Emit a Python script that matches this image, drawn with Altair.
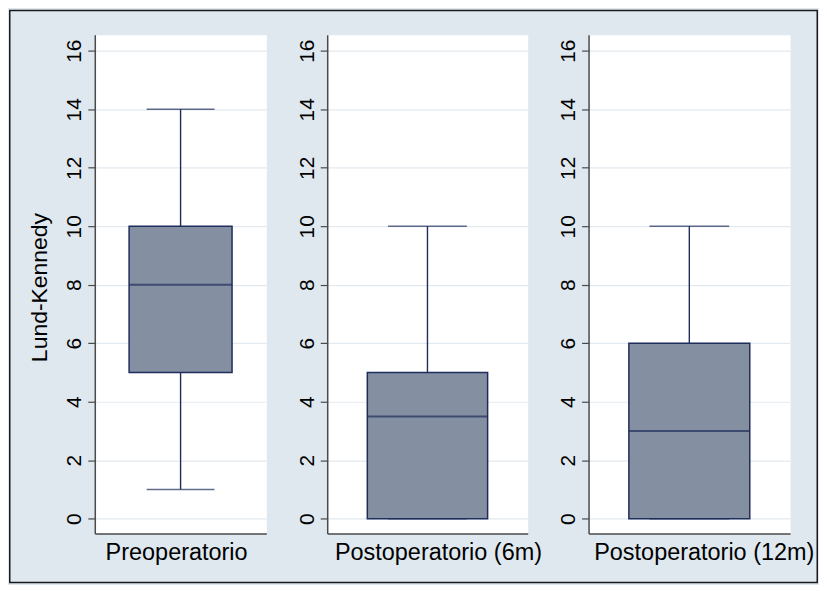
import altair as alt
import pandas as pd

# ---- data ----
groups = ["Preoperatorio", "Postoperatorio (6m)", "Postoperatorio (12m)"]
mins = [1, 0, 0]
q1s = [5, 0, 0]
medians = [8, 3.5, 3]
q3s = [10, 5, 6]
maxs = [14, 10, 10]
y_ticks = [0, 2, 4, 6, 8, 10, 12, 14, 16]

# ---- layout / style ----
panel_widths = [172, 201, 202]
label_offsets = [-4, 11, 15]
PLOT_H = 500
BG = "#DFE8EE"
BOX_FILL = "#858FA2"
LINE = "#1F2D5C"
AXIS_C = "#4A4A4A"
GRID_C = "#E3EAEF"
FONT = "Liberation Sans"


def panel(i):
    df = pd.DataFrame({
        "group": [groups[i]],
        "lo": [mins[i]],
        "q1": [q1s[i]],
        "med": [medians[i]],
        "q3": [q3s[i]],
        "hi": [maxs[i]],
    })
    w = panel_widths[i]
    x = alt.X(
        "group:N",
        title=None,
        scale=alt.Scale(paddingInner=0, paddingOuter=0),
        axis=alt.Axis(
            labelAngle=0, ticks=False, tickSize=0, grid=False,
            domainColor=AXIS_C, domainWidth=1.5,
            labelFont=FONT, labelFontSize=23.5, labelColor="black",
            labelBaseline="alphabetic", labelPadding=26, labelLimit=0,
            labelOffset=label_offsets[i],
        ),
    )
    y_scale = alt.Scale(domain=[-0.5, 16.55], nice=False, zero=False)
    y_axis = alt.Axis(
        values=y_ticks, labelAngle=-90, labelAlign="center",
        labelBaseline="alphabetic", labelFont=FONT, labelFontSize=21,
        labelColor="black", labelPadding=7, tickSize=7, tickColor=AXIS_C,
        tickWidth=1.2, domainColor=AXIS_C, domainWidth=1.5,
        grid=True, gridColor=GRID_C, gridWidth=1.2,
        titleFont=FONT, titleFontSize=23, titleFontWeight="normal",
        titleColor="black", titleAngle=-90, titleAlign="center",
        titleBaseline="alphabetic", titleX=-48, titleY=253,
    )
    y_title = "Lund-Kennedy" if i == 0 else None
    base = alt.Chart(df)
    yq = lambda f: alt.Y(f"{f}:Q", scale=y_scale, axis=y_axis, title=y_title)

    whisk_lo = base.mark_rule(color=LINE, strokeWidth=1.4).encode(x=x, y=yq("lo"), y2="q1:Q")
    whisk_hi = base.mark_rule(color=LINE, strokeWidth=1.4).encode(x=x, y=yq("q3"), y2="hi:Q")
    cap_lo = base.mark_tick(color=LINE, thickness=1.6, size=round(0.395 * w)).encode(x=x, y=yq("lo"))
    cap_hi = base.mark_tick(color=LINE, thickness=1.6, size=round(0.395 * w)).encode(x=x, y=yq("hi"))
    box = base.mark_bar(
        width=alt.RelativeBandSize(0.6), fill=BOX_FILL, stroke=LINE, strokeWidth=1.5
    ).encode(x=x, y=yq("q1"), y2="q3:Q")
    med = base.mark_tick(color=LINE, thickness=2, size=round(0.6 * w)).encode(x=x, y=yq("med"))

    layers = [whisk_lo, whisk_hi, cap_lo, cap_hi, box, med]
    if i == 0:
        frame = base.mark_rect(fillOpacity=0, stroke="#1A1A1A", strokeWidth=1.5).encode(
            x=alt.value(-85.25), x2=alt.value(724.25),
            y=alt.value(-24.25), y2=alt.value(549.25),
        )
        layers.append(frame)
    return alt.layer(*layers).properties(width=w, height=PLOT_H)


chart = alt.hconcat(panel(0), panel(1), panel(2), spacing=61, bounds="flush").configure(
    background=BG, padding=0, font=FONT
).configure_view(fill="white", stroke="transparent")

chart.save("out.html", embed_options={"renderer": "svg", "actions": False})
